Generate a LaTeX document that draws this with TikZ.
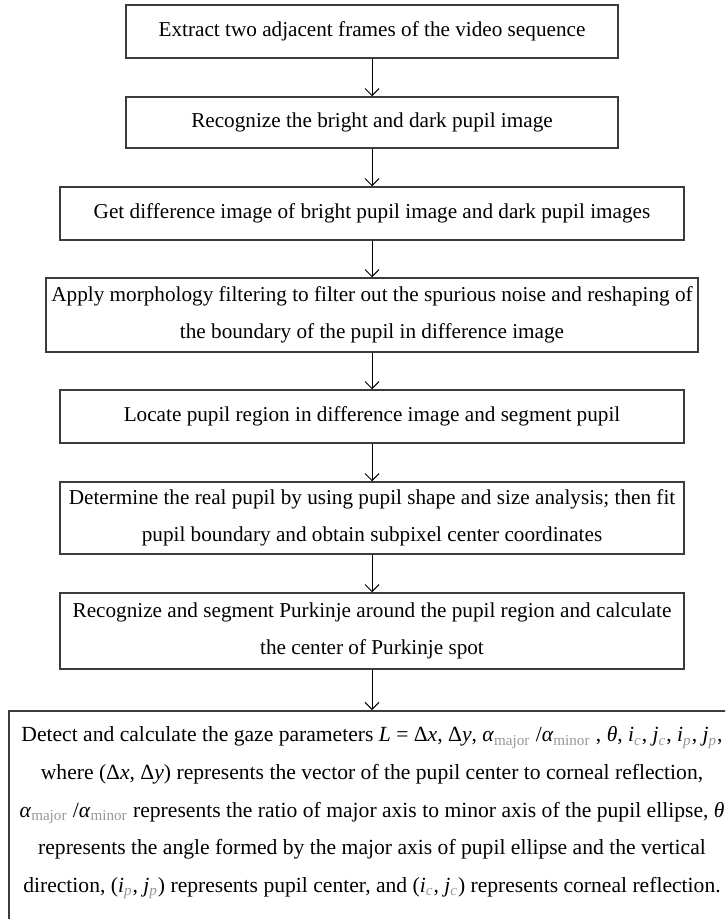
\documentclass[tikz,border=0pt]{standalone}
\usepackage{fontspec}
\setmainfont{Liberation Serif}
\usetikzlibrary{arrows.meta}
\definecolor{edgegray}{RGB}{60,60,60}
\definecolor{subgray}{RGB}{150,150,150}
\newcommand{\sg}[1]{\textsubscript{\color{subgray}#1}}
\newcommand{\iv}[1]{\textit{#1}}
\begin{document}
\begin{tikzpicture}[x=0.5pt,y=-0.5pt,
  box/.style={draw=edgegray, line width=0.75pt, align=center, inner sep=0pt,
    font=\fontsize{10.6}{18.5}\selectfont},
  flow/.style={-{Straight Barb[length=3.5pt,width=7pt]}, line width=0.5pt, black}]
\clip (0,0) rectangle (725,919);
\node[box, minimum width=246pt, minimum height=26.5pt] (b1) at (372,31.5)
  {Extract two adjacent frames of the video sequence};
\node[box, minimum width=246pt, minimum height=25.5pt] (b2) at (372,122.5)
  {Recognize the bright and dark pupil image};
\node[box, minimum width=312pt, minimum height=26.5pt] (b3) at (372,213.5)
  {Get difference image of bright pupil image and dark pupil images};
\node[box, minimum width=326pt, minimum height=37pt] (b4) at (372,315)
  {Apply morphology filtering to filter out the spurious noise and reshaping of\\the boundary of the pupil in difference image};
\node[box, minimum width=312pt, minimum height=26.5pt] (b5) at (372,416.5)
  {Locate pupil region in difference image and segment pupil};
\node[box, minimum width=312pt, minimum height=36pt] (b6) at (372,518)
  {Determine the real pupil by using pupil shape and size analysis; then fit\\pupil boundary and obtain subpixel center coordinates};
\node[box, minimum width=312pt, minimum height=38pt] (b7) at (372,631)
  {Recognize and segment Purkinje around the pupil region and calculate\\the center of Purkinje spot};
\node[box, anchor=north, minimum width=363pt, inner ysep=8pt,
  font=\fontsize{10.8}{18.8}\selectfont] (b8) at (372,710)
  {Detect and calculate the gaze parameters \iv{L} = Δ\iv{x}, Δ\iv{y}, \iv{α}\sg{major} /\iv{α}\sg{minor} , \iv{θ}, \iv{i}\sg{\iv{c}}, \iv{j}\sg{\iv{c}}, \iv{i}\sg{\iv{p}}, \iv{j}\sg{\iv{p}},\\
   where (Δ\iv{x}, Δ\iv{y}) represents the vector of the pupil center to corneal reflection,\\
   \iv{α}\sg{major} /\iv{α}\sg{minor}\ represents the ratio of major axis to minor axis of the pupil ellipse,\ \iv{θ}\\
   represents the angle formed by the major axis of pupil ellipse and the vertical\\
   direction, (\iv{i}\sg{\iv{p}}, \iv{j}\sg{\iv{p}}) represents pupil center, and (\iv{i}\sg{\iv{c}}, \iv{j}\sg{\iv{c}}) represents corneal reflection.\rule[-40pt]{0pt}{0pt}};
\draw[flow] (b1) -- (b2);
\draw[flow] (b2) -- (b3);
\draw[flow] (b3) -- (b4);
\draw[flow] (b4) -- (b5);
\draw[flow] (b5) -- (b6);
\draw[flow] (b6) -- (b7);
\draw[flow] (b7) -- (b8);
\end{tikzpicture}
\end{document}
